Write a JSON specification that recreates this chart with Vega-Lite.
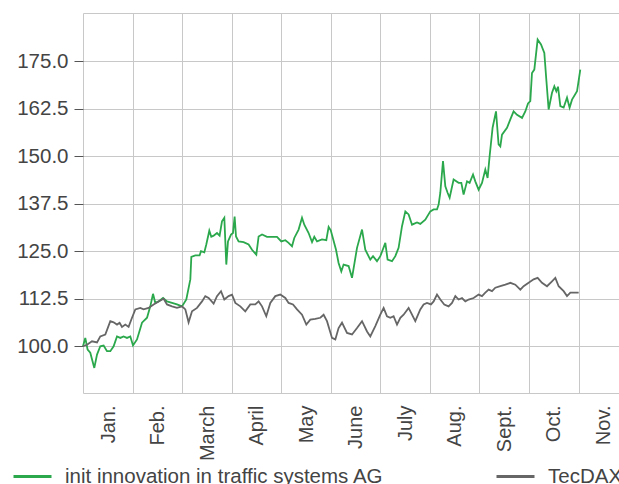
{
 "$schema": "https://vega.github.io/schema/vega-lite/v6.json",
 "width": 536,
 "height": 380,
 "autosize": {"type": "none"},
 "padding": {"left": 83, "top": 13, "right": 0, "bottom": 91},
 "config": {"font": "Liberation Sans", "view": {"stroke": null}},
 "datasets": {
  "init": [
   {"m":0,"v":100},{"m":0.046,"v":102.2},{"m":0.093,"v":99.1},{"m":0.147,"v":98.3},{"m":0.228,"v":94.3},{"m":0.283,"v":97.8},{"m":0.349,"v":100},{"m":0.416,"v":100.2},{"m":0.484,"v":98.7},{"m":0.551,"v":98.7},{"m":0.618,"v":100},{"m":0.686,"v":102.6},{"m":0.753,"v":102.2},{"m":0.819,"v":102.6},{"m":0.888,"v":102.2},{"m":0.955,"v":102.6},{"m":1.009,"v":100.2},{"m":1.09,"v":101.8},{"m":1.191,"v":106.2},{"m":1.292,"v":107.5},{"m":1.358,"v":110.5},{"m":1.413,"v":113.8},{"m":1.459,"v":111.4},{"m":1.526,"v":111.8},{"m":1.615,"v":112.7},{"m":1.695,"v":111.8},{"m":1.796,"v":111.4},{"m":1.897,"v":111},{"m":1.998,"v":110.5},{"m":2.085,"v":112.3},{"m":2.166,"v":117.6},{"m":2.186,"v":123.5},{"m":2.266,"v":123.9},{"m":2.353,"v":123.9},{"m":2.381,"v":125},{"m":2.448,"v":124.7},{"m":2.488,"v":126.8},{"m":2.549,"v":130.4},{"m":2.589,"v":128.8},{"m":2.636,"v":129.1},{"m":2.704,"v":129.8},{"m":2.757,"v":129.1},{"m":2.805,"v":132.9},{"m":2.852,"v":133.8},{"m":2.892,"v":121.5},{"m":2.926,"v":127.6},{"m":2.987,"v":129.4},{"m":3.027,"v":129.8},{"m":3.06,"v":134.1},{"m":3.088,"v":128.9},{"m":3.14,"v":127.6},{"m":3.241,"v":127.4},{"m":3.342,"v":126.8},{"m":3.411,"v":125.4},{"m":3.498,"v":124.1},{"m":3.544,"v":128.9},{"m":3.613,"v":129.4},{"m":3.713,"v":128.8},{"m":3.814,"v":128.8},{"m":3.915,"v":128.8},{"m":4.002,"v":127.6},{"m":4.083,"v":127.9},{"m":4.149,"v":127.2},{"m":4.218,"v":126.3},{"m":4.264,"v":128.5},{"m":4.351,"v":130.7},{"m":4.42,"v":133.8},{"m":4.466,"v":132},{"m":4.553,"v":129.8},{"m":4.622,"v":127.4},{"m":4.668,"v":128.8},{"m":4.723,"v":127.6},{"m":4.823,"v":128.1},{"m":4.91,"v":127.9},{"m":4.957,"v":131.4},{"m":5.0,"v":130.5},{"m":5.106,"v":125.4},{"m":5.158,"v":121.9},{"m":5.213,"v":119.7},{"m":5.259,"v":121.5},{"m":5.36,"v":121.1},{"m":5.429,"v":118},{"m":5.53,"v":125.9},{"m":5.631,"v":130.7},{"m":5.697,"v":125.4},{"m":5.798,"v":122.8},{"m":5.853,"v":123.7},{"m":5.933,"v":122.4},{"m":6.0,"v":123.7},{"m":6.101,"v":127.2},{"m":6.147,"v":122.8},{"m":6.236,"v":122.4},{"m":6.303,"v":123.7},{"m":6.369,"v":125.9},{"m":6.438,"v":131.6},{"m":6.505,"v":135.5},{"m":6.571,"v":134.7},{"m":6.64,"v":132},{"m":6.741,"v":132.6},{"m":6.807,"v":132.2},{"m":6.908,"v":133.3},{"m":7.009,"v":135.5},{"m":7.076,"v":136},{"m":7.144,"v":136},{"m":7.177,"v":137.3},{"m":7.211,"v":140.4},{"m":7.265,"v":148.7},{"m":7.312,"v":142.1},{"m":7.358,"v":140.4},{"m":7.399,"v":139.1},{"m":7.479,"v":143.9},{"m":7.58,"v":143},{"m":7.635,"v":143},{"m":7.681,"v":139.9},{"m":7.75,"v":143.4},{"m":7.802,"v":143},{"m":7.871,"v":145.2},{"m":7.917,"v":143.4},{"m":7.984,"v":141.2},{"m":8.052,"v":143},{"m":8.119,"v":146.5},{"m":8.165,"v":144.3},{"m":8.206,"v":150},{"m":8.266,"v":157.5},{"m":8.335,"v":161.8},{"m":8.387,"v":153.1},{"m":8.422,"v":152.6},{"m":8.456,"v":155.7},{"m":8.557,"v":157.5},{"m":8.624,"v":159.7},{"m":8.69,"v":161.8},{"m":8.759,"v":160.9},{"m":8.86,"v":160.1},{"m":8.926,"v":161.8},{"m":8.981,"v":163.9},{"m":9.027,"v":164.5},{"m":9.061,"v":171.9},{"m":9.108,"v":172.8},{"m":9.175,"v":180.7},{"m":9.243,"v":179.4},{"m":9.31,"v":177.2},{"m":9.35,"v":170.2},{"m":9.397,"v":162.3},{"m":9.465,"v":166.7},{"m":9.512,"v":168.4},{"m":9.552,"v":167.1},{"m":9.586,"v":168.3},{"m":9.633,"v":163.2},{"m":9.7,"v":162.8},{"m":9.768,"v":165.4},{"m":9.82,"v":162.8},{"m":9.869,"v":164.9},{"m":9.97,"v":167.1},{"m":10.036,"v":172.8}
  ],
  "tec": [
   {"m":0,"v":100},{"m":0.081,"v":100.4},{"m":0.182,"v":101.3},{"m":0.283,"v":101},{"m":0.349,"v":102.6},{"m":0.45,"v":103.1},{"m":0.551,"v":106.6},{"m":0.618,"v":106.3},{"m":0.686,"v":105.7},{"m":0.739,"v":106.2},{"m":0.787,"v":105.1},{"m":0.854,"v":105.7},{"m":0.92,"v":105.1},{"m":0.989,"v":107.5},{"m":1.056,"v":109.7},{"m":1.156,"v":110.1},{"m":1.223,"v":109.7},{"m":1.324,"v":110.1},{"m":1.425,"v":111},{"m":1.526,"v":111.8},{"m":1.627,"v":112.5},{"m":1.695,"v":111},{"m":1.796,"v":110.5},{"m":1.897,"v":110.1},{"m":1.998,"v":110.5},{"m":2.065,"v":109.7},{"m":2.131,"v":106.3},{"m":2.2,"v":109.2},{"m":2.301,"v":110.1},{"m":2.402,"v":111.8},{"m":2.468,"v":113.2},{"m":2.535,"v":112.7},{"m":2.636,"v":111.2},{"m":2.704,"v":113.2},{"m":2.785,"v":114.5},{"m":2.852,"v":112.3},{"m":2.938,"v":113.2},{"m":3.007,"v":113.6},{"m":3.074,"v":111.4},{"m":3.175,"v":110.5},{"m":3.275,"v":109.2},{"m":3.376,"v":111},{"m":3.477,"v":111},{"m":3.544,"v":111.8},{"m":3.613,"v":110.5},{"m":3.699,"v":107.9},{"m":3.78,"v":111.4},{"m":3.881,"v":113.2},{"m":3.982,"v":113.6},{"m":4.083,"v":112.7},{"m":4.149,"v":111.4},{"m":4.238,"v":111},{"m":4.319,"v":109.7},{"m":4.42,"v":108.3},{"m":4.507,"v":105.7},{"m":4.587,"v":107},{"m":4.688,"v":107.2},{"m":4.789,"v":107.5},{"m":4.856,"v":108.3},{"m":4.924,"v":106.6},{"m":5.025,"v":102.2},{"m":5.092,"v":101.8},{"m":5.158,"v":104.8},{"m":5.227,"v":106.2},{"m":5.328,"v":103.5},{"m":5.429,"v":103.1},{"m":5.53,"v":104.8},{"m":5.631,"v":106.6},{"m":5.732,"v":103.9},{"m":5.798,"v":102.6},{"m":5.899,"v":105.3},{"m":6.0,"v":108.3},{"m":6.067,"v":110.1},{"m":6.135,"v":107.9},{"m":6.202,"v":107.5},{"m":6.268,"v":107.9},{"m":6.337,"v":105.7},{"m":6.404,"v":107.5},{"m":6.47,"v":108.3},{"m":6.571,"v":110.1},{"m":6.64,"v":108.3},{"m":6.706,"v":106.6},{"m":6.807,"v":109.7},{"m":6.874,"v":111},{"m":6.942,"v":111.4},{"m":7.023,"v":111},{"m":7.076,"v":111.8},{"m":7.144,"v":113.6},{"m":7.211,"v":112.3},{"m":7.291,"v":111},{"m":7.378,"v":110.5},{"m":7.447,"v":111.4},{"m":7.514,"v":113.2},{"m":7.58,"v":112.3},{"m":7.649,"v":112.7},{"m":7.716,"v":111.8},{"m":7.782,"v":112.3},{"m":7.883,"v":112.7},{"m":7.984,"v":113.6},{"m":8.052,"v":113.2},{"m":8.119,"v":114.1},{"m":8.186,"v":114.9},{"m":8.254,"v":114.5},{"m":8.321,"v":115.4},{"m":8.422,"v":115.8},{"m":8.523,"v":116.2},{"m":8.624,"v":116.7},{"m":8.725,"v":116.2},{"m":8.826,"v":114.9},{"m":8.892,"v":115.8},{"m":8.993,"v":116.7},{"m":9.094,"v":117.6},{"m":9.175,"v":118},{"m":9.263,"v":116.7},{"m":9.364,"v":115.8},{"m":9.465,"v":117.1},{"m":9.532,"v":118},{"m":9.599,"v":115.8},{"m":9.7,"v":114.5},{"m":9.768,"v":113.2},{"m":9.835,"v":114.1},{"m":9.936,"v":114.1},{"m":10.003,"v":114.1}
  ]
 },
 "layer": [
  {
   "data": {"name": "init"},
   "mark": {"type": "line", "strokeWidth": 1.8},
   "encoding": {
    "color": {"datum": "init innovation in traffic systems AG"}
   }
  },
  {
   "data": {"name": "tec"},
   "mark": {"type": "line", "strokeWidth": 1.8},
   "encoding": {
    "color": {"datum": "TecDAX"}
   }
  }
 ],
 "encoding": {
  "x": {
   "field": "m", "type": "quantitative",
   "scale": {"domain": [0, 10.817], "nice": false, "zero": false},
   "axis": {
    "values": [0,1,2,3,4,5,6,7,8,9,10],
    "labelExpr": "['Jan.','Feb.','March','April','May','June','July','Aug.','Sept.','Oct.','Nov.'][datum.value]",
    "labelAngle": 270, "labelAlign": "right", "labelBaseline": "middle",
    "labelOffset": 25, "labelPadding": 12, "ticks": false, "tickSize": 0,
    "domain": false, "grid": true, "gridColor": "#c8c8c8",
    "labelFontSize": 20, "labelColor": "#444444", "title": null,
    "labelFlush": false, "labelOverlap": false
   }
  },
  "y": {
   "field": "v", "type": "quantitative",
   "scale": {"domain": [87.7, 187.7], "nice": false, "zero": false},
   "axis": {
    "values": [87.7,100,112.5,125,137.5,150,162.5,175,187.7],
    "format": ".1f",
    "labelExpr": "datum.value < 95 || datum.value > 180 ? '' : datum.label",
    "tickOpacity": {"condition": {"test": "datum.value < 95 || datum.value > 180", "value": 0}, "value": 1},
    "tickSize": 9, "tickColor": "#555555", "labelPadding": 6,
    "domain": false, "grid": true, "gridColor": "#c8c8c8",
    "labelFontSize": 20.5, "labelColor": "#444444", "title": null, "labelFlush": false
   }
  },
  "color": {
   "type": "nominal",
   "scale": {"domain": ["init innovation in traffic systems AG", "TecDAX"], "range": ["#2ba84c", "#666666"]},
   "legend": {
    "orient": "none", "legendX": -71, "legendY": 443, "direction": "horizontal",
    "title": null, "symbolType": "stroke", "symbolSize": 1444, "symbolStrokeWidth": 3,
    "labelFontSize": 20.5, "labelColor": "#444444", "labelOffset": 12,
    "columnPadding": 106, "labelLimit": 500, "padding": 0
   }
  }
 }
}
